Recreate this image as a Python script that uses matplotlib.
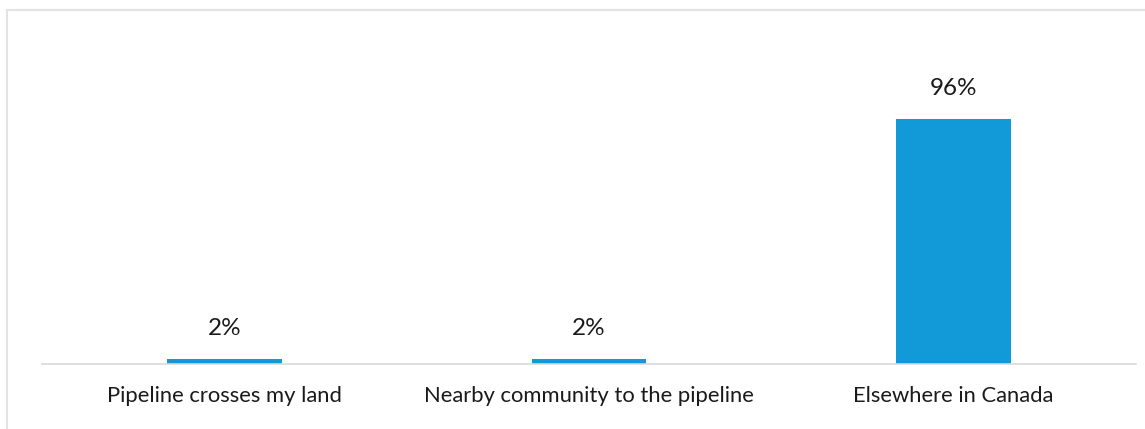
import matplotlib.pyplot as plt
from matplotlib.patches import Rectangle

# data
categories = ['Pipeline crosses my land', 'Nearby community to the pipeline', 'Elsewhere in Canada']
values = [2, 2, 96]
labels = ['2%', '2%', '96%']

W, H = 1145, 429
fig = plt.figure(figsize=(W / 100, H / 100), dpi=100)
plt.rcParams['font.family'] = ['Lato', 'DejaVu Sans']

# light frame around the chart area
fig.patches.append(Rectangle((7 / W, -0.1), 1.2, (H - 10) / H + 0.1,
                             transform=fig.transFigure, fill=False,
                             edgecolor='#e3e3e3', linewidth=1.5))

ymax = 110
left, right, base = 42, 1136, 364
ax = fig.add_axes([left / W, (H - base) / H, (right - left) / W, ymax * 2.553 / H])

x = range(len(categories))
ax.bar(x, values, width=0.315, color='#119ad7')
ax.set_xlim(-0.5, 2.5)
ax.set_ylim(0, ymax)

for xi, v, lab in zip(x, values, labels):
    ax.annotate(lab, (xi, v), xytext=(0, 14), textcoords='offset points',
                ha='center', va='bottom', fontsize=17.5, color='#1a1a1a')

ax.set_xticks(list(x))
ax.set_xticklabels(categories, fontsize=15.8, color='#1a1a1a')
ax.tick_params(axis='x', length=0, pad=16)
ax.set_yticks([])
for s in ['top', 'right', 'left']:
    ax.spines[s].set_visible(False)
ax.spines['bottom'].set_color('#d9d9d9')
ax.spines['bottom'].set_linewidth(1.2)
ax.patch.set_alpha(0)

fig.savefig('out.png', dpi=100)
